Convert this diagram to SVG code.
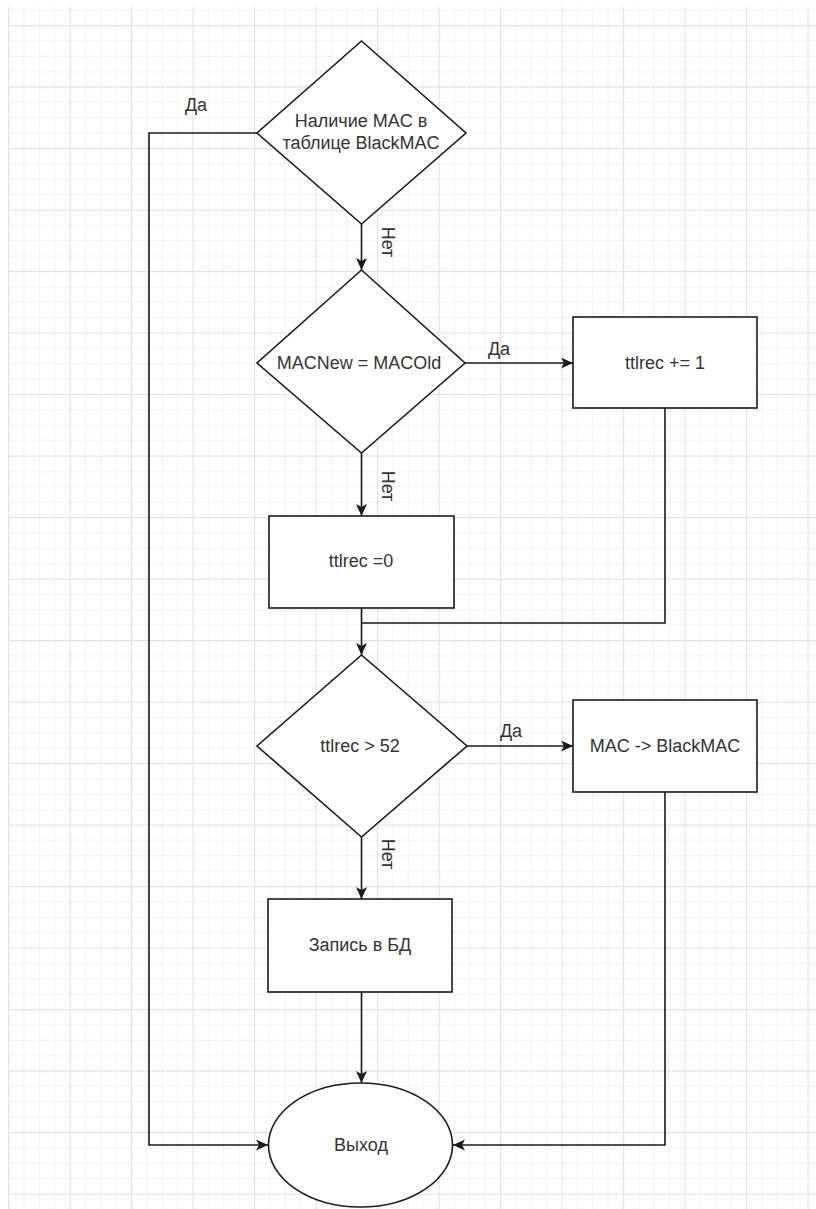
<svg xmlns="http://www.w3.org/2000/svg" width="816" height="1209" viewBox="0 0 816 1209">
  <style>
    .shape { fill: #ffffff; stroke: #1a1a1a; stroke-width: 1.6; }
    .edge { fill: none; stroke: #1a1a1a; stroke-width: 1.6; }
    .lbl { font-family: "Liberation Sans", Arial, sans-serif; font-size: 18px; fill: #333333; text-anchor: middle; }
  </style>
  <defs>
    <pattern id="grid" patternUnits="userSpaceOnUse" x="8" y="25" width="61.5" height="61.5">
      <rect x="0" y="0" width="61.5" height="61.5" fill="#ffffff"/>
      <g fill="#f1f1f1">
        <rect x="15.4" y="0" width="1" height="61.5"/>
        <rect x="30.75" y="0" width="1" height="61.5"/>
        <rect x="46.1" y="0" width="1" height="61.5"/>
        <rect x="0" y="15.4" width="61.5" height="1"/>
        <rect x="0" y="30.75" width="61.5" height="1"/>
        <rect x="0" y="46.1" width="61.5" height="1"/>
      </g>
      <g fill="#e3e3e3">
        <rect x="0" y="0" width="1.2" height="61.5"/>
        <rect x="0" y="0" width="61.5" height="1.2"/>
      </g>
    </pattern>
    <marker id="arrow" markerUnits="userSpaceOnUse" markerWidth="14" markerHeight="12" refX="12" refY="5.5" orient="auto">
      <path d="M0,0 L12,5.5 L0,11 L3,5.5 Z" fill="#1a1a1a"/>
    </marker>
  </defs>

  <rect x="0" y="0" width="816" height="1209" fill="#ffffff"/>
  <rect x="8" y="7" width="808" height="1202" fill="url(#grid)"/>

  <g id="connectors">
    <path class="edge" d="M257,133 H149 V1145 H268" marker-end="url(#arrow)"/>
    <path class="edge" d="M361.5,224 V270" marker-end="url(#arrow)"/>
    <path class="edge" d="M465,363 H573" marker-end="url(#arrow)"/>
    <path class="edge" d="M361.5,453 V516" marker-end="url(#arrow)"/>
    <path class="edge" d="M665,408 V623 H361.5"/>
    <path class="edge" d="M361.5,608 V655" marker-end="url(#arrow)"/>
    <path class="edge" d="M467,746 H573" marker-end="url(#arrow)"/>
    <path class="edge" d="M665,792 V1145 H453" marker-end="url(#arrow)"/>
    <path class="edge" d="M361.5,837 V899" marker-end="url(#arrow)"/>
    <path class="edge" d="M361.5,992 V1083" marker-end="url(#arrow)"/>
    <text class="lbl" x="196" y="111">Да</text>
    <text class="lbl" x="499" y="355">Да</text>
    <text class="lbl" x="511" y="737">Да</text>
    <text class="lbl" transform="translate(382,242) rotate(90)" y="0">Нет</text>
    <text class="lbl" transform="translate(382,486) rotate(90)" y="0">Нет</text>
    <text class="lbl" transform="translate(382,854) rotate(90)" y="0">Нет</text>
  </g>

  <g id="node-blackmac-check">
    <polygon class="shape" points="361.5,41 466,133 361.5,224 257,133"/>
    <text class="lbl" x="361" y="127">Наличие MAC в</text>
    <text class="lbl" x="361" y="149">таблице BlackMAC</text>
  </g>

  <g id="node-mac-compare">
    <polygon class="shape" points="361.5,270 465,363 361.5,453 257,363"/>
    <text class="lbl" x="359" y="369">MACNew = MACOld</text>
  </g>

  <g id="node-ttlrec-inc">
    <rect class="shape" x="573" y="317" width="184" height="91"/>
    <text class="lbl" x="665" y="369">ttlrec += 1</text>
  </g>

  <g id="node-ttlrec-zero">
    <rect class="shape" x="269" y="516" width="185" height="92"/>
    <text class="lbl" x="361" y="567">ttlrec =0</text>
  </g>

  <g id="node-ttlrec-check">
    <polygon class="shape" points="361.5,655 467,746 361.5,837 257,746"/>
    <text class="lbl" x="360" y="752">ttlrec &gt; 52</text>
  </g>

  <g id="node-to-blackmac">
    <rect class="shape" x="573" y="700" width="184" height="92"/>
    <text class="lbl" x="665" y="752">MAC -&gt; BlackMAC</text>
  </g>

  <g id="node-db-write">
    <rect class="shape" x="268" y="899" width="184" height="93"/>
    <text class="lbl" x="360" y="951">Запись в БД</text>
  </g>

  <g id="node-exit">
    <ellipse class="shape" cx="360.5" cy="1145" rx="92" ry="62"/>
    <text class="lbl" x="361" y="1151">Выход</text>
  </g>
</svg>
